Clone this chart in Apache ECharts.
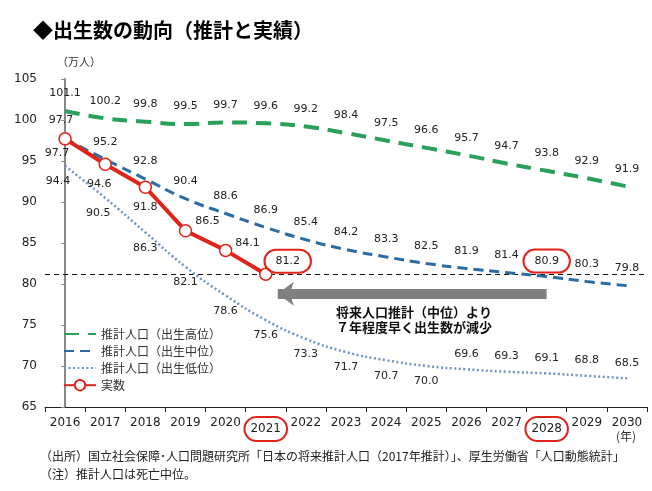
<!DOCTYPE html>
<html><head><meta charset="utf-8">
<script src="https://cdn.jsdelivr.net/npm/echarts@6/dist/echarts.min.js"></script>
<style>html,body{margin:0;padding:0;background:#fff}#c{width:652px;height:491px}</style>
</head><body><div id="c"></div>
<script>
// ---- data ----
const years = ['2016','2017','2018','2019','2020','2021','2022','2023','2024','2025','2026','2027','2028','2029','2030'];
const highProj = [101.1,100.2,99.8,99.5,99.7,99.6,99.2,98.4,97.5,96.6,95.7,94.7,93.8,92.9,91.9];
const midProj  = [97.7,95.2,92.8,90.4,88.6,86.9,85.4,84.2,83.3,82.5,81.9,81.4,80.9,80.3,79.8];
const lowProj  = [94.4,90.5,86.3,82.1,78.6,75.6,73.3,71.7,70.7,70.0,69.6,69.3,69.1,68.8,68.5];
const actual   = [97.7,94.6,91.8,86.5,84.1,81.2];
const seriesNames = ['推計人口（出生高位）','推計人口（出生中位）','推計人口（出生低位）','実数'];
const yMin = 65, yMax = 105, yStep = 5;
const circledYears = ['2021','2028'];
const actualCircledYear = '2021';
const midCircledYear = '2028';

// ---- styles ----
const FONT = "'DejaVu Sans','Noto Sans CJK JP',sans-serif";
const JP = "'Noto Sans CJK JP','DejaVu Sans',sans-serif";
const RED = '#E2231A', GREEN = '#2AA05A', BLUE = '#2C6CA4', LBLUE = '#6E94C9';
const circleLabel = {borderColor: RED, borderWidth: 2, borderRadius: 16, padding: [6, 11]};

const highPos = years.map(() => ({position: 'top', distance: 11}));
const midPos = years.map((y, i) => i === 0 ? {position: 'bottom', distance: 8, offset: [-8, 0]} : {position: 'top', distance: 11});
const lowPos = years.map((y, i) => i < 10 ? {position: 'bottom', distance: 9, offset: i < 2 ? [-7, 0] : [0, 0]} : {position: 'top', distance: 9});
const actualPos = [
  {position: 'top', distance: 6, offset: [-4, 0]},
  {position: 'bottom', distance: 8, offset: [-6, 0]},
  {position: 'bottom', distance: 8, offset: [0, 0]},
  {position: 'right', distance: 3, offset: [0, -10]},
  {position: 'right', distance: 3, offset: [0, -7]},
  {position: 'right', distance: 0, offset: [-8, -13]}
];

function build(values, pos, circledIdx) {
  return values.map((v, i) => {
    const lab = Object.assign({}, pos[i]);
    if (i === circledIdx) Object.assign(lab, circleLabel, {distance: lab.position === 'top' ? 3 : lab.distance});
    return {value: v, label: lab};
  });
}

const labelBase = {show: true, color: '#222', fontSize: 11, fontFamily: FONT,
  formatter: p => Number(p.value).toFixed(1)};
const hiddenSym = {symbol: 'circle', symbolSize: 2, itemStyle: {color: 'rgba(0,0,0,0)', borderWidth: 0}};

const chart = echarts.init(document.getElementById('c'), null, {renderer: 'canvas'});
chart.setOption({
  animation: false,
  backgroundColor: '#fff',
  title: {text: '◆出生数の動向（推計と実績）', left: 28, top: 15,
    textStyle: {fontFamily: JP, fontSize: 20, fontWeight: 'bold', color: '#000'}},
  grid: {left: 45, right: 5, top: 79, bottom: 84},
  legend: {
    orient: 'vertical', left: 58, top: 323, itemWidth: 32, itemHeight: 13, itemGap: 5,
    data: seriesNames,
    textStyle: {fontFamily: JP, fontSize: 12, color: '#333'}
  },
  xAxis: [{
    type: 'category', data: years, boundaryGap: true,
    axisLine: {lineStyle: {color: '#222', width: 1}},
    axisTick: {show: true, length: 5, lineStyle: {color: '#222'}},
    axisLabel: {
      fontFamily: FONT, fontSize: 12, color: '#222', margin: 10, interval: 0,
      formatter: v => circledYears.includes(v) ? '{c|' + v + '}' : v,
      rich: {c: {fontFamily: FONT, fontSize: 12, color: '#222', borderColor: RED, borderWidth: 2, borderRadius: 16, padding: [6, 6]}}
    }
  }, {
    type: 'value', min: -0.5, max: 14.5, show: false
  }],
  yAxis: {
    type: 'value', min: yMin, max: yMax, interval: yStep,
    name: '（万人）', nameLocation: 'end', nameGap: 12,
    nameTextStyle: {fontFamily: JP, fontSize: 11, color: '#333', align: 'left', padding: [0, 0, 0, -8]},
    axisLine: {show: true, lineStyle: {color: '#888', width: 2}},
    axisTick: {show: true, length: 4, lineStyle: {color: '#888'}},
    splitLine: {show: false},
    axisLabel: {fontFamily: FONT, fontSize: 12, color: '#222', margin: 8}
  },
  series: [
    Object.assign({
      name: seriesNames[0], type: 'line', smooth: true, z: 2,
      lineStyle: {color: GREEN, width: 4, type: [15, 9]},
      label: labelBase,
      data: build(highProj, highPos, -1)
    }, hiddenSym),
    Object.assign({
      name: seriesNames[1], type: 'line', smooth: true, z: 3,
      lineStyle: {color: BLUE, width: 3, type: [10, 6]},
      label: labelBase,
      data: build(midProj, midPos, years.indexOf(midCircledYear))
    }, hiddenSym),
    Object.assign({
      name: seriesNames[2], type: 'line', smooth: true, z: 3,
      lineStyle: {color: LBLUE, width: 2.5, type: [2, 2.5]},
      label: labelBase,
      data: build(lowProj, lowPos, -1)
    }, hiddenSym),
    {
      name: seriesNames[3], type: 'line', z: 5,
      symbol: 'circle', symbolSize: 12, showSymbol: true,
      itemStyle: {color: '#fff', borderColor: RED, borderWidth: 1.5},
      lineStyle: {color: RED, width: 4},
      label: labelBase,
      data: build(actual, actualPos, years.indexOf(actualCircledYear)),
      markLine: {
        silent: true, symbol: 'none', z: 1,
        label: {show: false},
        lineStyle: {color: '#111', width: 1.2, type: [5, 4]},
        data: [{yAxis: actual[actual.length - 1]}]
      }
    },
    {
      name: 'arrow', type: 'line', xAxisIndex: 1, z: 4,
      symbol: 'none', lineStyle: {opacity: 0}, silent: true,
      data: [[12.0, 78.8], [5.3, 78.8]],
      markLine: {
        silent: true, symbol: ['none', 'arrow'], symbolSize: [18, 16],
        label: {show: false},
        lineStyle: {color: '#808080', width: 10, type: 'solid'},
        data: [[{coord: [12.0, 78.8]}, {coord: [5.3, 78.8]}]]
      }
    }
  ],
  graphic: [
    {type: 'text', left: 336, top: 305, style: {
      text: '将来人口推計（中位）より\n７年程度早く出生数が減少',
      font: 'bold 13px ' + JP, fill: '#111', lineHeight: 15}},
    {type: 'text', right: 16, top: 430, style: {text: '(年)', font: '12px ' + JP, fill: '#333'}},
    {type: 'text', left: 40, top: 447, style: {
      text: '（出所）国立社会保障･人口問題研究所「日本の将来推計人口（2017年推計）」、厚生労働省「人口動態統計」\n（注）推計人口は死亡中位。',
      font: '12px ' + JP, fill: '#222', lineHeight: 18}}
  ]
});
</script></body></html>
